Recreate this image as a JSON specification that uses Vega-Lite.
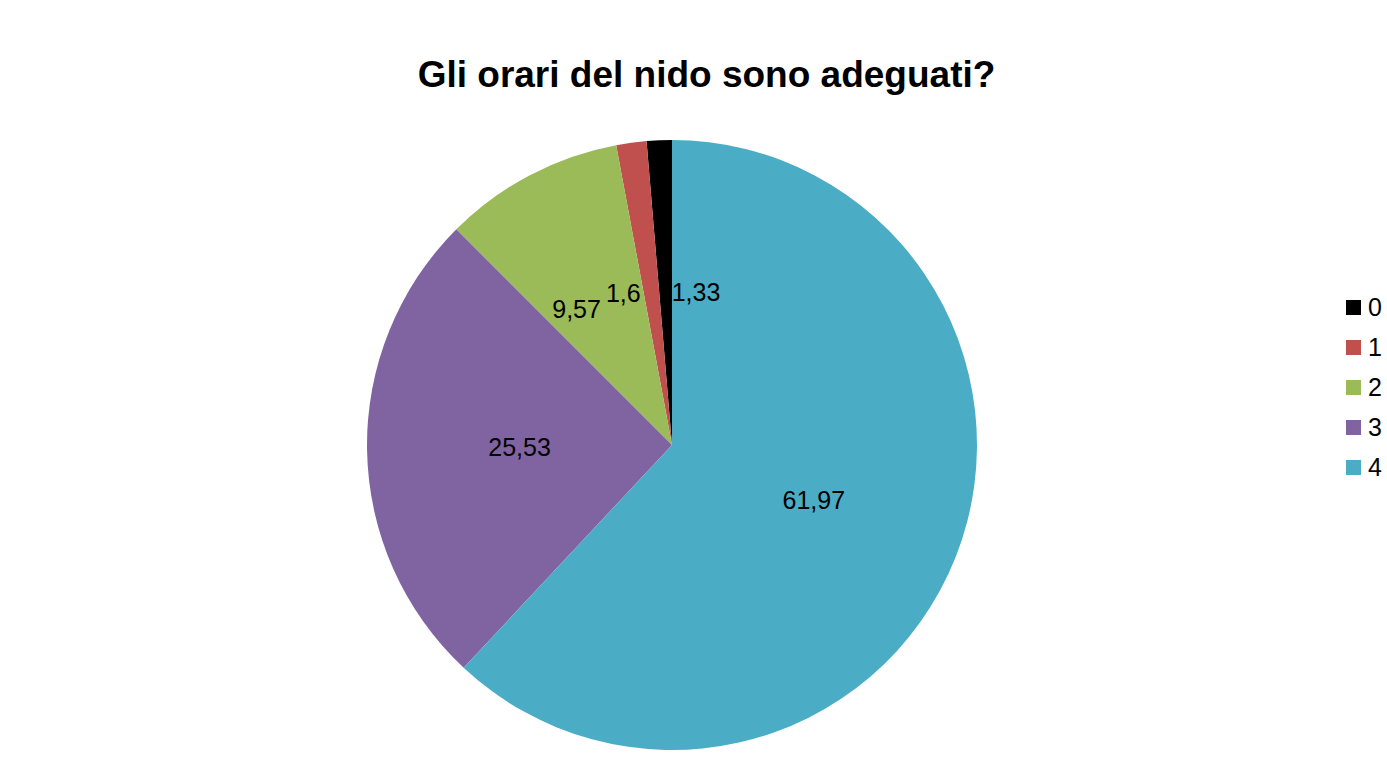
{
  "$schema": "https://vega.github.io/schema/vega-lite/v6.json",
  "width": 1328,
  "height": 874,
  "autosize": {"type": "none"},
  "padding": {"left": 8, "top": 8, "right": 51, "bottom": -123},
  "background": "#ffffff",
  "config": {
    "view": {"stroke": null},
    "locale": {"number": {"decimal": ",", "thousands": ".", "grouping": [3], "currency": ["€", ""]}}
  },
  "title": {
    "text": "Gli orari del nido sono adeguati?",
    "font": "Liberation Sans",
    "fontSize": 37,
    "fontWeight": "bold",
    "color": "#000000",
    "anchor": "middle",
    "frame": "group",
    "baseline": "alphabetic",
    "offset": 0,
    "dy": 116,
    "dx": 34.5
  },
  "data": {
    "values": [
      {"category": "0", "value": 1.33},
      {"category": "1", "value": 1.6},
      {"category": "2", "value": 9.57},
      {"category": "3", "value": 25.53},
      {"category": "4", "value": 61.97}
    ]
  },
  "encoding": {
    "theta": {"field": "value", "type": "quantitative", "stack": true},
    "order": {"field": "category", "type": "ordinal", "sort": "descending"}
  },
  "layer": [
    {
      "mark": {"type": "arc", "outerRadius": 305},
      "encoding": {
        "color": {
          "field": "category",
          "type": "nominal",
          "scale": {"domain": ["0", "1", "2", "3", "4"], "range": ["#000000", "#c0504d", "#9bbb59", "#8064a2", "#4bacc6"]},
          "legend": {
            "orient": "none",
            "legendX": 1333,
            "legendY": 287,
            "title": null,
            "symbolType": "square",
            "symbolSize": 225,
            "symbolStrokeWidth": 0,
            "symbolOpacity": 1,
            "labelFont": "Liberation Sans",
            "labelFontSize": 25,
            "labelColor": "#000000",
            "labelOffset": 2,
            "rowPadding": 14,
            "padding": 0
          }
        }
      }
    },
    {
      "mark": {"type": "text", "radius": 152.5, "align": "center", "baseline": "middle", "font": "Liberation Sans", "fontSize": 25, "color": "#000000"},
      "encoding": {
        "text": {"condition": {"test": "datum.category == '3' || datum.category == '4'", "field": "value", "type": "quantitative", "format": ".2~f"}, "value": ""}
      }
    },
    {
      "mark": {"type": "text", "radius": 152.5, "align": "right", "baseline": "middle", "font": "Liberation Sans", "fontSize": 25, "color": "#000000"},
      "encoding": {
        "text": {"condition": {"test": "datum.category == '2'", "field": "value", "type": "quantitative", "format": ".2~f"}, "value": ""}
      }
    },
    {
      "mark": {"type": "text", "radius": 152.5, "align": "right", "baseline": "middle", "dx": -11, "font": "Liberation Sans", "fontSize": 25, "color": "#000000"},
      "encoding": {
        "text": {"condition": {"test": "datum.category == '1'", "field": "value", "type": "quantitative", "format": ".2~f"}, "value": ""}
      }
    },
    {
      "mark": {"type": "text", "radius": 152.5, "align": "left", "baseline": "middle", "dx": 6, "font": "Liberation Sans", "fontSize": 25, "color": "#000000"},
      "encoding": {
        "text": {"condition": {"test": "datum.category == '0'", "field": "value", "type": "quantitative", "format": ".2~f"}, "value": ""}
      }
    }
  ]
}
